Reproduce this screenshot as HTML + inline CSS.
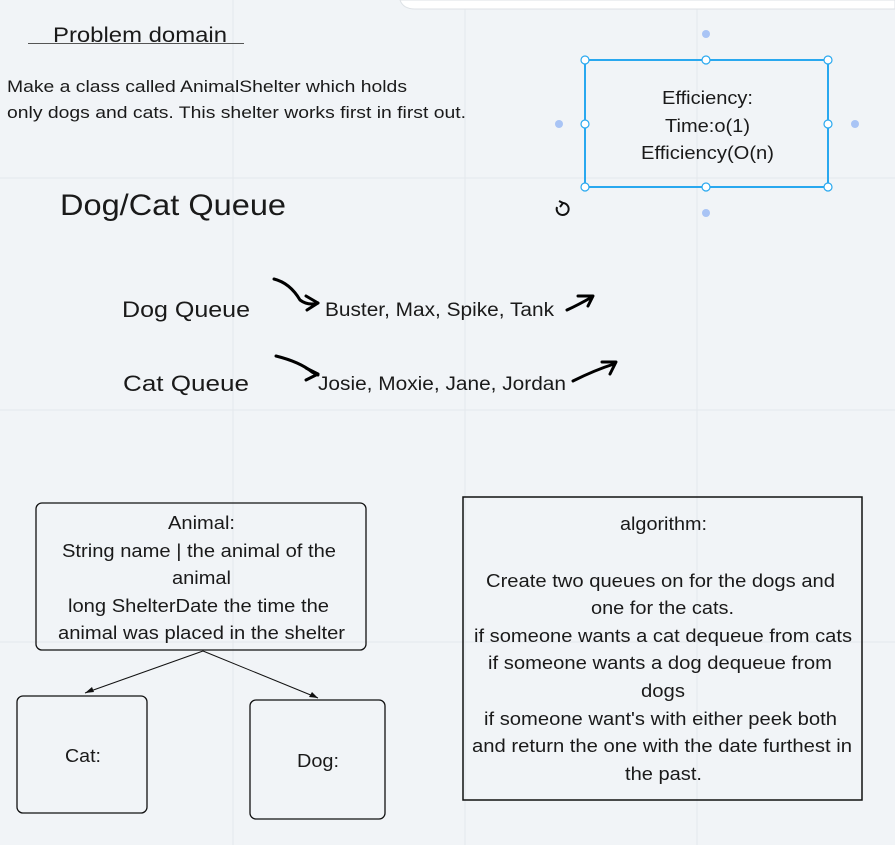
<!DOCTYPE html>
<html><head><meta charset="utf-8"><style>
html,body{margin:0;padding:0;width:895px;height:845px;overflow:hidden;background:#f1f4f7;}
svg{position:absolute;left:0;top:0;}
text{font-family:"Liberation Sans",Arial,sans-serif;fill:#1a1a1a;}
</style></head><body>
<svg width="895" height="845" viewBox="0 0 895 845">
<g stroke="#e4e8ec" stroke-width="1">
<line x1="233" y1="0" x2="233" y2="845"/><line x1="465" y1="0" x2="465" y2="845"/><line x1="697" y1="0" x2="697" y2="845"/>
<line x1="0" y1="178" x2="895" y2="178"/><line x1="0" y1="410" x2="895" y2="410"/><line x1="0" y1="642" x2="895" y2="642"/>
</g>
<path d="M400,0 L895,0 L895,9 L415,9 Q403,9 400,0 Z" fill="#fff" stroke="#dde1e5"/>
<g lengthAdjust="spacingAndGlyphs">
<text x="53" y="42" font-size="21" textLength="174" lengthAdjust="spacingAndGlyphs">Problem domain</text>
<text x="7" y="92" font-size="17" textLength="400" lengthAdjust="spacingAndGlyphs">Make a class called AnimalShelter which holds</text>
<text x="7" y="118" font-size="17" textLength="459" lengthAdjust="spacingAndGlyphs">only dogs and cats. This shelter works first in first out.</text>
<text x="60" y="215" font-size="30" textLength="226" lengthAdjust="spacingAndGlyphs">Dog/Cat Queue</text>
<text x="662" y="104" font-size="18" textLength="91" lengthAdjust="spacingAndGlyphs">Efficiency:</text>
<text x="665" y="132" font-size="18" textLength="85" lengthAdjust="spacingAndGlyphs">Time:o(1)</text>
<text x="641" y="159" font-size="18" textLength="133" lengthAdjust="spacingAndGlyphs">Efficiency(O(n)</text>
<text x="122" y="317" font-size="22" textLength="128" lengthAdjust="spacingAndGlyphs">Dog Queue</text>
<text x="123" y="391" font-size="22" textLength="126" lengthAdjust="spacingAndGlyphs">Cat Queue</text>
<text x="325" y="316" font-size="19" textLength="229" lengthAdjust="spacingAndGlyphs">Buster, Max, Spike, Tank</text>
<text x="318" y="390" font-size="19" textLength="248" lengthAdjust="spacingAndGlyphs">Josie, Moxie, Jane, Jordan</text>
<text x="168" y="529" font-size="18" textLength="67" lengthAdjust="spacingAndGlyphs">Animal:</text>
<text x="62" y="557" font-size="18" textLength="274" lengthAdjust="spacingAndGlyphs">String name | the animal of the</text>
<text x="172" y="584" font-size="18" textLength="59" lengthAdjust="spacingAndGlyphs">animal</text>
<text x="68" y="612" font-size="18" textLength="261" lengthAdjust="spacingAndGlyphs">long ShelterDate the time the</text>
<text x="58" y="639" font-size="18" textLength="287" lengthAdjust="spacingAndGlyphs">animal was placed in the shelter</text>
<text x="65" y="762" font-size="18" textLength="36" lengthAdjust="spacingAndGlyphs">Cat:</text>
<text x="297" y="767" font-size="18" textLength="42" lengthAdjust="spacingAndGlyphs">Dog:</text>
<text x="620" y="530" font-size="18" textLength="87" lengthAdjust="spacingAndGlyphs">algorithm:</text>
<text x="486" y="587" font-size="18" textLength="349" lengthAdjust="spacingAndGlyphs">Create two queues on for the dogs and</text>
<text x="591" y="614" font-size="18" textLength="143" lengthAdjust="spacingAndGlyphs">one for the cats.</text>
<text x="474" y="642" font-size="18" textLength="378" lengthAdjust="spacingAndGlyphs">if someone wants a cat dequeue from cats</text>
<text x="488" y="669" font-size="18" textLength="344" lengthAdjust="spacingAndGlyphs">if someone wants a dog dequeue from</text>
<text x="641" y="697" font-size="18" textLength="44" lengthAdjust="spacingAndGlyphs">dogs</text>
<text x="484" y="725" font-size="18" textLength="353" lengthAdjust="spacingAndGlyphs">if someone want's with either peek both</text>
<text x="472" y="752" font-size="18" textLength="380" lengthAdjust="spacingAndGlyphs">and return the one with the date furthest in</text>
<text x="625" y="780" font-size="18" textLength="77" lengthAdjust="spacingAndGlyphs">the past.</text>
</g>
<line x1="28" y1="43.5" x2="244" y2="43.5" stroke="#555" stroke-width="1"/>
<rect x="585" y="60" width="243" height="127" fill="none" stroke="#29a8ef" stroke-width="2"/>
<g fill="#fff" stroke="#29a8ef" stroke-width="1.2">
<circle cx="585" cy="60" r="4"/><circle cx="706" cy="60" r="4"/><circle cx="828" cy="60" r="4"/>
<circle cx="585" cy="124" r="4"/><circle cx="828" cy="124" r="4"/>
<circle cx="585" cy="187" r="4"/><circle cx="706" cy="187" r="4"/><circle cx="828" cy="187" r="4"/>
</g>
<g fill="#a9c4f5"><circle cx="706" cy="34" r="4"/><circle cx="706" cy="213" r="4"/><circle cx="559" cy="124" r="4"/><circle cx="855" cy="124" r="4"/></g>
<g fill="none" stroke="#111" stroke-width="2"><path d="M557,207 A6,6 0 1 0 563,203"/><path d="M559,201 L563,203 L560,207"/></g>
<g fill="none" stroke="#000" stroke-width="3" stroke-linecap="round" stroke-linejoin="round">
<path d="M274,279 Q290,283 300,300 Q308,306 318,303"/><path d="M306,296 L318,303 L307,310"/>
<path d="M276,356 Q300,362 312,372 L318,375"/><path d="M306,368 L318,374 L306,380"/>
<path d="M567,310 Q578,305 592,297"/><path d="M578,296 L593,296 L588,306"/>
<path d="M573,381 Q595,370 614,364"/><path d="M602,362 L616,362 L610,374"/>
</g>
<rect x="36" y="503" width="330" height="147" rx="6" fill="none" stroke="#111" stroke-width="1.3"/>
<rect x="17" y="696" width="130" height="117" rx="6" fill="none" stroke="#111" stroke-width="1.3"/>
<rect x="250" y="700" width="135" height="119" rx="6" fill="none" stroke="#111" stroke-width="1.3"/>
<g stroke="#111" stroke-width="1"><line x1="203" y1="651" x2="85" y2="693"/><line x1="203" y1="651" x2="318" y2="698"/></g>
<path d="M85,693 L92,687 L94,692 Z M318,698 L309,697 L312,692 Z" fill="#111"/>
<rect x="463" y="497" width="399" height="303" fill="none" stroke="#111" stroke-width="1.5"/>
</svg>
</body></html>
